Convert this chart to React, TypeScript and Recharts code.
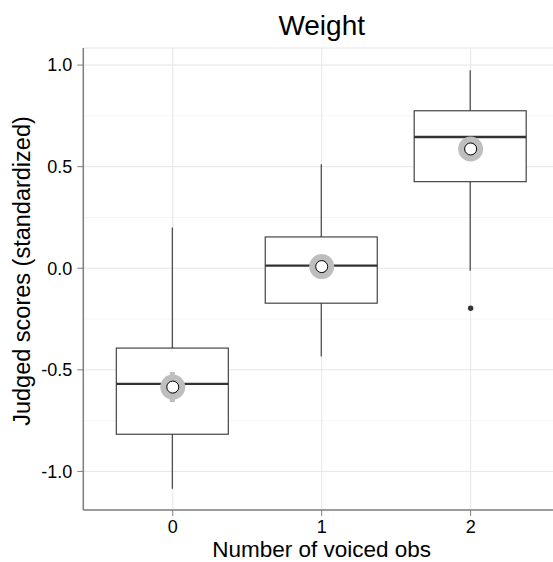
import React from 'react';
import { ComposedChart, Bar, Scatter, XAxis, YAxis, CartesianGrid } from 'recharts';

const categories = ['0', '1', '2'];
const whiskerLow = [-1.086, -0.435, -0.012];
const lowerQuartile = [-0.817, -0.172, 0.426];
const medians = [-0.569, 0.013, 0.646];
const upperQuartile = [-0.393, 0.154, 0.775];
const whiskerHigh = [0.2, 0.512, 0.975];
const means = [-0.585, 0.008, 0.587];
const meanCI = [0.074, 0.045, 0.05];
const outliers: (number | null)[] = [null, null, -0.197];

const yTicks = [-1, -0.5, 0, 0.5, 1];
const yMinor = [-0.75, -0.25, 0.25, 0.75];

const data = categories.map((cat, i) => ({
  cat,
  lo: whiskerLow[i],
  q1: lowerQuartile[i],
  med: medians[i],
  q3: upperQuartile[i],
  hi: whiskerHigh[i],
  mean: means[i],
  ci: meanCI[i],
  outlier: outliers[i],
}));

const BOX = '#333333';
const GREY = '#bebebe';
const BORDER = '#7f7f7f';
const FONT = '"Liberation Sans", Arial, Helvetica, sans-serif';

const BoxShape = (props: any) => {
  const { x, y, width, height, payload } = props;
  const { lo, hi, q1, q3, med, mean, ci } = payload;
  const py = (v: number) => y + (height * (hi - v)) / (hi - lo);
  const cx = x + width / 2;
  return (
    <g>
      <line x1={cx} x2={cx} y1={py(hi)} y2={py(q3)} stroke={BOX} strokeWidth={1.1} />
      <line x1={cx} x2={cx} y1={py(q1)} y2={py(lo)} stroke={BOX} strokeWidth={1.1} />
      <rect x={x} y={py(q3)} width={width} height={py(q1) - py(q3)} fill="#ffffff" stroke={BOX} strokeWidth={1.1} />
      <line x1={x} x2={x + width} y1={py(med)} y2={py(med)} stroke={BOX} strokeWidth={2.3} />
      <line x1={cx} x2={cx} y1={py(mean + ci)} y2={py(mean - ci)} stroke={GREY} strokeWidth={5} />
    </g>
  );
};

const MeanShape = (props: any) => {
  const { cx, cy } = props;
  if (cx == null || cy == null || isNaN(cy)) return <g />;
  return (
    <g>
      <circle cx={cx} cy={cy} r={12.5} fill={GREY} />
      <circle cx={cx} cy={cy} r={6} fill="#ffffff" stroke="#000000" strokeWidth={1} />
    </g>
  );
};

const OutlierShape = (props: any) => {
  const { cx, cy, payload } = props;
  if (payload == null || payload.outlier == null || cy == null || isNaN(cy)) return <g />;
  return <circle cx={cx} cy={cy} r={2.7} fill={BOX} />;
};

const fmt = (v: number) => v.toFixed(1);

export default function App() {
  return (
    <div style={{ position: 'absolute', left: 0, top: 0, width: 553, height: 562, overflow: 'hidden', background: '#fff' }}>
      <svg width={553} height={48} style={{ position: 'absolute', left: 0, top: 0 }}>
        <text x={321.7} y={35} textAnchor="middle" fontSize={28} fill="#000" fontFamily={FONT}>
          Weight
        </text>
      </svg>
      <div style={{ position: 'absolute', left: 0, top: 0 }}>
        <ComposedChart
          width={570}
          height={562}
          data={data}
          margin={{ top: 48, right: 9.9, bottom: 0, left: 0 }}
          style={{ fontFamily: FONT }}
        >
          <CartesianGrid horizontalValues={yMinor} vertical={false} stroke="#f5f5f5" strokeWidth={1} />
          <CartesianGrid stroke="#e6e6e6" strokeWidth={1} />
          <XAxis
            dataKey="cat"
            type="category"
            padding={{ left: 15, right: 15 }}
            height={52}
            tickSize={6}
            tickMargin={4}
            axisLine={{ stroke: BORDER, strokeWidth: 1.5 }}
            tickLine={{ stroke: BORDER, strokeWidth: 1 }}
            tick={{ fill: '#000', fontSize: 18, fontFamily: FONT }}
            label={{
              content: (p: any) => {
                const vb = p.viewBox || {};
                return (
                  <text x={vb.x + vb.width / 2} y={vb.y + 47.2} textAnchor="middle" fontSize={22.5} fill="#000" fontFamily={FONT}>
                    Number of voiced obs
                  </text>
                );
              },
            }}
          />
          <XAxis
            xAxisId="top"
            dataKey="cat"
            orientation="top"
            height={0}
            tick={false}
            tickLine={false}
            axisLine={{ stroke: BORDER, strokeWidth: 1.5 }}
          />
          <YAxis
            type="number"
            domain={[-1.19, 1.084]}
            ticks={yTicks}
            tickFormatter={fmt}
            width={83.3}
            tickSize={6}
            tickMargin={5}
            axisLine={{ stroke: BORDER, strokeWidth: 1.5 }}
            tickLine={{ stroke: BORDER, strokeWidth: 1 }}
            tick={{ fill: '#000', fontSize: 18, fontFamily: FONT }}
            label={{
              content: (p: any) => {
                const vb = p.viewBox || {};
                const cy = vb.y + vb.height / 2 - 8;
                return (
                  <text x={30} y={cy} transform={`rotate(-90, 30, ${cy})`} textAnchor="middle" fontSize={23.5} fill="#000" fontFamily={FONT}>
                    Judged scores (standardized)
                  </text>
                );
              },
            }}
          />
          <Bar dataKey={(d: any) => [d.lo, d.hi]} barSize={112} shape={BoxShape} isAnimationActive={false} />
          <Scatter dataKey="outlier" shape={OutlierShape} isAnimationActive={false} />
          <Scatter dataKey="mean" shape={MeanShape} isAnimationActive={false} />
        </ComposedChart>
      </div>
    </div>
  );
}
